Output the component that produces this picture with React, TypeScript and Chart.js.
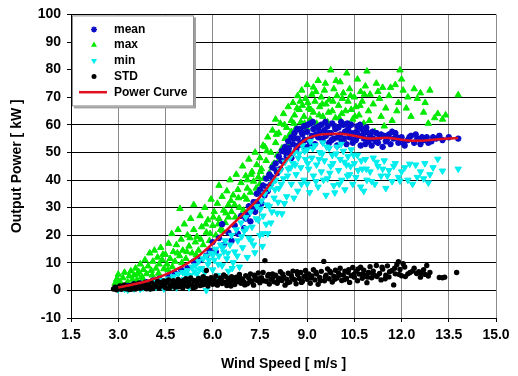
import React, { useEffect, useRef } from "react";
import { Chart, registerables } from "chart.js";

Chart.register(...registerables);

// ---------- data ----------
const curveSpeed = [3.0, 3.5, 4.0, 4.5, 5.0, 5.5, 6.0, 6.5, 7.0, 7.5, 8.0, 8.25, 8.5, 8.75, 9.0, 9.5, 10.0, 10.5, 11.0, 11.5, 12.0, 12.5, 13.0, 13.5, 13.8];
const curvePower = [1.0, 2.2, 3.7, 5.7, 8.5, 12.0, 17.0, 22.5, 28.0, 33.8, 41.5, 46.0, 49.5, 52.8, 55.0, 56.6, 56.8, 56.0, 55.0, 55.3, 54.6, 54.2, 54.6, 55.0, 55.2];

const meanPoints: [number, number][] = [
  [3.0, 0.8], [3.1, 1.2], [3.3, 1.6], [3.5, 2.2], [3.7, 2.5], [3.9, 3.0], [4.1, 3.6], [4.3, 4.2], [4.6, 5.5], [4.8, 6.2],
  [5.0, 7.5], [5.2, 8.0], [5.4, 10.5], [5.6, 11.0], [5.8, 12.6], [5.9, 14.5], [6.0, 17.5], [6.1, 14.0], [6.2, 19.0], [6.3, 24.0],
  [6.35, 16.5], [6.5, 21.0], [6.6, 18.0], [6.7, 23.5], [6.8, 20.5], [6.9, 27.0], [7.0, 22.5], [7.05, 26.0], [7.15, 30.5], [7.2, 25.0],
  [7.3, 32.0], [7.35, 28.5], [7.4, 35.0], [7.45, 30.5],
  [7.5, 36.5], [7.55, 31.5], [7.6, 38.0], [7.65, 34.5], [7.7, 40.5], [7.75, 36.0], [7.8, 42.0], [7.85, 38.5], [7.9, 44.5], [7.95, 40.0],
  [8.0, 46.0], [8.05, 42.5], [8.1, 48.5], [8.15, 44.0], [8.2, 50.5], [8.25, 46.5], [8.3, 52.0], [8.35, 48.5], [8.4, 54.0], [8.45, 50.0],
  [8.5, 55.5], [8.5, 48.0],
  [8.55, 53.0], [8.6, 57.0], [8.65, 51.0], [8.7, 55.0], [8.75, 58.5], [8.8, 53.5], [8.85, 56.5], [8.9, 59.5], [8.95, 52.0], [9.0, 57.5],
  [9.05, 54.5], [9.1, 60.5], [9.15, 56.0], [9.2, 58.5], [9.25, 53.0], [9.3, 59.0], [9.35, 55.5], [9.4, 57.5], [9.45, 60.0], [9.5, 54.0],
  [9.55, 58.0], [9.6, 56.0], [9.65, 59.5], [9.7, 53.5], [9.75, 57.0], [9.8, 60.5], [9.85, 55.0], [9.9, 58.5], [9.95, 52.5], [10.0, 59.0],
  [10.05, 56.5], [10.1, 54.0], [10.15, 60.0], [10.2, 57.5], [10.25, 53.0], [10.3, 58.5], [10.35, 55.5], [10.4, 60.0], [10.45, 53.5], [10.5, 57.0],
  [10.55, 54.5], [10.6, 59.5], [10.65, 56.0], [10.7, 52.5], [10.75, 58.5], [10.8, 55.0], [10.85, 53.0], [10.9, 57.5], [10.95, 54.0],
  [11.0, 56.0], [11.05, 52.5], [11.1, 55.0], [11.2, 57.0], [11.25, 53.5], [11.3, 55.5], [11.4, 52.0], [11.45, 56.0], [11.5, 54.0], [11.6, 56.5],
  [11.65, 53.0], [11.75, 55.0], [11.8, 57.0], [11.9, 53.5], [12.0, 55.5], [12.1, 52.5], [12.2, 54.5], [12.3, 56.0], [12.4, 53.5], [12.5, 55.0],
  [12.6, 53.0], [12.7, 54.5], [12.8, 55.5], [12.95, 54.0], [13.1, 55.0], [13.2, 56.0], [13.3, 54.5], [13.5, 55.5], [13.8, 55.0],
  [8.32, 50.0], [8.42, 51.5], [8.58, 55.0], [8.68, 58.5], [8.72, 52.5], [8.82, 57.5], [8.92, 54.5], [9.02, 60.0], [9.08, 52.5], [9.18, 61.0],
  [9.28, 56.5], [9.38, 59.5], [9.48, 55.0], [9.58, 61.0], [9.68, 57.0], [9.78, 54.5], [9.88, 59.5], [9.98, 55.5], [10.08, 61.0], [10.18, 55.0],
  [10.28, 60.5], [10.38, 57.0], [10.48, 54.5], [10.58, 57.5], [10.68, 60.0], [10.78, 56.5], [10.88, 59.0], [10.98, 55.5], [11.08, 57.5], [11.18, 54.0],
  [11.35, 56.5], [11.55, 55.0], [11.7, 57.5], [11.85, 55.5], [12.05, 53.5], [12.25, 55.5], [12.45, 56.5], [12.65, 55.5], [12.85, 53.5], [13.0, 55.5],
  [7.12, 27.5], [7.28, 29.5], [7.42, 32.0], [7.58, 35.5], [7.72, 37.5], [7.88, 41.0], [8.02, 43.5], [8.18, 47.0],
];

const maxPoints: [number, number][] = [
  [2.9, 2.5], [2.95, 4.0], [3.0, 1.5], [3.0, 5.8], [3.05, 3.2], [3.1, 2.0], [3.15, 4.5], [3.2, 6.5], [3.3, 3.0], [3.35, 5.2], [3.4, 7.0], [3.45, 4.0],
  [3.5, 5.5], [3.55, 8.0], [3.6, 3.8], [3.65, 6.8], [3.7, 9.5], [3.75, 5.0], [3.8, 7.5], [3.85, 11.0], [3.9, 6.0], [3.95, 8.8],
  [4.0, 13.5], [4.05, 7.2], [4.1, 10.5], [4.15, 14.5], [4.2, 8.0], [4.25, 12.0], [4.3, 9.5], [4.35, 15.5], [4.4, 11.0], [4.45, 7.8],
  [4.5, 13.0], [4.55, 9.5], [4.6, 17.0], [4.65, 11.5], [4.7, 20.5], [4.75, 14.0], [4.8, 10.5], [4.85, 16.5], [4.9, 22.0], [4.95, 12.5],
  [4.96, 29.6], [5.0, 18.5], [5.05, 14.5], [5.1, 24.0], [5.15, 11.5], [5.2, 20.0], [5.25, 16.0], [5.3, 26.0], [5.35, 13.5], [5.4, 31.0],
  [5.4, 22.0], [5.45, 17.5],
  [5.5, 19.5], [5.55, 14.5], [5.6, 27.0], [5.65, 23.0], [5.7, 16.5], [5.75, 30.0], [5.8, 21.0], [5.85, 25.5], [5.9, 18.0], [5.95, 33.0],
  [6.0, 23.5], [6.05, 28.5], [6.1, 20.0], [6.15, 31.5], [6.2, 38.0], [6.2, 26.0], [6.25, 22.0], [6.3, 34.0], [6.35, 29.0], [6.4, 24.5],
  [6.45, 36.0], [6.5, 31.0], [6.5, 26.5],
  [6.55, 40.0], [6.6, 28.5], [6.65, 34.5], [6.7, 31.0], [6.75, 42.0], [6.8, 36.5], [6.85, 30.0], [6.9, 39.0], [6.95, 45.0], [7.0, 34.0],
  [7.05, 41.5], [7.1, 37.0], [7.1, 40.0], [7.15, 47.5], [7.2, 35.5], [7.25, 43.0], [7.3, 39.5], [7.35, 50.0], [7.4, 45.5], [7.45, 41.0],
  [7.5, 48.0], [7.5, 38.5],
  [7.55, 44.0], [7.6, 52.5], [7.66, 52.0], [7.7, 47.0], [7.75, 55.5], [7.8, 42.5], [7.85, 50.0], [7.9, 58.0], [7.95, 46.0], [8.0, 62.0],
  [8.0, 53.5], [8.05, 49.0], [8.1, 57.0], [8.15, 60.5], [8.2, 51.5], [8.25, 64.0], [8.3, 55.0], [8.35, 59.0], [8.4, 66.5], [8.45, 53.0],
  [8.5, 61.5], [8.5, 57.5],
  [8.55, 68.0], [8.6, 63.5], [8.65, 59.0], [8.7, 70.5], [8.75, 65.5], [8.8, 61.0], [8.83, 72.5], [8.85, 67.0], [8.9, 63.0], [8.95, 69.5],
  [9.0, 58.5], [9.0, 74.5], [9.05, 66.0], [9.1, 62.0], [9.15, 71.0], [9.2, 73.6], [9.2, 64.5], [9.25, 68.5], [9.3, 60.5], [9.35, 76.0],
  [9.4, 66.5], [9.45, 70.0], [9.5, 63.0], [9.55, 72.5], [9.6, 67.5], [9.65, 61.0], [9.7, 69.0], [9.75, 79.8], [9.8, 65.0], [9.85, 73.0],
  [9.9, 62.5], [9.95, 70.5], [10.0, 67.0], [10.05, 75.5], [10.1, 64.0], [10.15, 71.5], [10.2, 60.0], [10.26, 78.7], [10.3, 68.5], [10.35, 73.0],
  [10.4, 65.5], [10.45, 62.0],
  [10.5, 70.0], [10.55, 66.5], [10.6, 76.5], [10.65, 63.5], [10.7, 72.0], [10.75, 68.5], [10.8, 60.5], [10.85, 74.0], [10.9, 79.4], [10.95, 65.0],
  [11.0, 71.0], [11.1, 67.5], [11.15, 57.5], [11.2, 75.0], [11.3, 69.5], [11.35, 63.0], [11.4, 73.5], [11.5, 66.0], [11.6, 70.5], [11.7, 61.5],
  [11.8, 74.5], [11.9, 68.0], [11.95, 79.8], [12.0, 76.5],
  [12.05, 72.5], [12.15, 66.0], [12.2, 70.0], [12.3, 63.0], [12.4, 73.0], [12.5, 69.5], [12.6, 71.5], [12.7, 64.5], [12.75, 68.0], [12.85, 60.5],
  [12.9, 72.5], [13.05, 62.5], [13.15, 64.0], [13.3, 62.0], [13.4, 63.5], [13.8, 70.8],
  [3.25, 2.0], [3.6, 5.9], [3.78, 4.2], [4.08, 5.5], [4.28, 6.2], [4.42, 13.0], [4.58, 7.5], [4.72, 8.5], [4.88, 13.5], [5.02, 10.0],
  [5.18, 14.0], [5.28, 19.0], [5.48, 12.8], [5.62, 18.5], [5.78, 24.0], [5.92, 20.5], [6.02, 26.5], [6.18, 24.0], [6.32, 21.5], [6.42, 28.0],
  [6.58, 32.5], [6.72, 26.5], [6.82, 33.5], [6.98, 29.0], [7.08, 33.0], [7.22, 42.0], [7.38, 37.0], [7.52, 43.0], [7.62, 40.5], [7.72, 50.5],
  [7.88, 45.0], [8.02, 56.5], [8.12, 47.5], [8.28, 60.0], [8.42, 56.0], [8.58, 60.5], [8.68, 66.0], [8.78, 68.5], [8.92, 60.5], [9.02, 68.0],
  [9.12, 65.5], [9.28, 72.0], [9.38, 63.5], [9.48, 67.5], [9.58, 75.0], [9.68, 64.5], [9.82, 68.5], [9.92, 76.0], [10.02, 62.5], [10.12, 69.5],
  [10.22, 65.0], [10.38, 70.5], [10.52, 63.0], [10.68, 67.0], [10.82, 71.0], [10.98, 61.5], [11.25, 72.0], [11.45, 59.5], [11.65, 73.5], [11.85, 65.0],
];

const minPoints: [number, number][] = [
  [3.0, 0.3], [3.1, 0.8], [3.2, 0.5], [3.4, 1.2], [3.5, 0.6], [3.6, 1.8], [3.8, 1.0], [3.9, 2.4], [4.0, 0.8], [4.1, 2.9], [4.3, 1.6], [4.4, 3.6],
  [4.5, 2.2], [4.6, 4.2], [4.7, 1.5], [4.75, 5.0], [4.8, 3.0], [4.9, 5.8], [5.0, 2.5], [5.05, 6.5], [5.1, 4.0], [5.2, 7.2],
  [5.25, 1.0], [5.3, 5.5], [5.35, 8.5], [5.4, 3.5], [5.45, 9.0], [5.5, 6.0],
  [5.55, 10.5], [5.6, 4.5], [5.65, 8.0], [5.7, 11.5], [5.75, 6.5], [5.8, 0.0], [5.8, 12.5], [5.85, 9.5], [5.9, 4.0], [5.95, 13.5],
  [6.0, 7.5], [6.05, 11.0], [6.1, 15.0], [6.15, 5.5], [6.2, 12.5], [6.25, 16.5], [6.3, 9.0], [6.35, 14.0], [6.4, 18.0], [6.45, 11.5], [6.5, 7.0],
  [6.55, 16.5], [6.6, 20.0], [6.65, 10.1], [6.7, 14.0], [6.75, 22.0], [6.8, 18.0], [6.85, 8.5], [6.9, 24.5], [6.95, 15.5], [7.0, 21.5],
  [7.05, 26.5], [7.1, 12.0], [7.15, 19.0], [7.2, 28.5], [7.25, 23.0], [7.3, 16.5], [7.34, 13.7], [7.4, 30.5], [7.45, 25.5], [7.5, 20.0],
  [7.55, 32.5], [7.6, 27.0], [7.6, 20.6], [7.65, 35.0], [7.7, 24.0], [7.75, 20.6], [7.8, 30.5], [7.8, 37.0], [7.85, 24.5], [7.9, 39.0],
  [7.95, 33.5], [8.0, 40.0], [8.05, 28.0], [8.1, 37.0], [8.15, 43.5], [8.2, 27.8], [8.25, 40.5], [8.3, 46.5], [8.35, 34.0], [8.4, 44.0],
  [8.45, 48.0], [8.5, 38.5],
  [8.55, 46.0], [8.6, 50.0], [8.65, 42.0], [8.7, 36.0], [8.75, 49.5], [8.8, 44.5], [8.85, 52.5], [8.9, 40.0], [8.95, 47.5], [9.0, 38.6],
  [9.0, 51.0], [9.05, 44.0], [9.1, 54.0], [9.15, 48.0], [9.2, 41.5], [9.25, 52.5], [9.3, 45.5], [9.35, 37.5], [9.4, 50.0], [9.45, 43.0],
  [9.5, 53.5], [9.55, 47.0], [9.6, 34.5], [9.65, 40.5], [9.7, 51.5], [9.75, 45.0], [9.8, 49.0], [9.85, 38.0], [9.88, 35.4], [9.95, 52.0],
  [10.0, 43.5], [10.05, 47.5], [10.1, 40.0], [10.15, 50.5], [10.2, 36.5], [10.25, 45.5], [10.3, 48.5], [10.35, 42.0], [10.4, 51.0], [10.45, 38.5],
  [10.5, 46.0], [10.55, 41.0], [10.6, 49.0], [10.7, 37.5], [10.75, 44.0], [10.8, 36.0], [10.85, 47.5], [10.9, 40.0], [11.0, 43.0], [11.1, 48.0],
  [11.15, 38.5], [11.25, 45.0], [11.35, 41.5], [11.45, 47.0], [11.5, 37.0], [11.6, 43.5], [11.7, 39.5], [11.8, 46.0], [11.9, 41.0], [11.95, 39.7],
  [12.1, 44.5], [12.26, 45.8], [12.35, 38.5], [12.5, 41.0], [12.6, 43.0], [12.74, 46.0], [12.85, 39.0], [12.9, 42.0], [13.0, 44.5], [13.15, 47.6],
  [13.3, 43.3], [13.8, 44.0],
  [3.3, 0.2], [3.7, 0.5], [4.2, 1.2], [4.45, 0.6], [4.65, 2.8], [4.85, 1.0], [5.15, 5.8], [5.42, 6.8], [5.58, 7.5], [5.72, 3.0],
  [5.88, 11.0], [6.02, 13.0], [6.18, 9.5], [6.32, 15.5], [6.48, 13.5], [6.62, 8.0], [6.78, 12.5], [6.92, 19.5], [7.08, 22.5], [7.22, 18.0],
  [7.38, 26.0], [7.52, 29.5], [7.58, 16.0], [7.72, 31.0], [7.88, 28.5], [7.98, 36.5], [8.08, 32.0], [8.18, 38.5], [8.28, 31.5], [8.38, 41.5],
  [8.48, 44.5], [8.58, 33.5], [8.62, 45.5], [8.72, 48.0], [8.82, 38.5], [8.92, 50.5], [9.02, 46.0], [9.08, 35.5], [9.18, 51.5], [9.28, 39.5],
  [9.38, 47.5], [9.48, 49.5], [9.52, 40.0], [9.62, 52.0], [9.72, 42.5], [9.82, 46.0], [9.92, 49.5], [10.02, 38.5], [10.08, 53.0], [10.18, 46.5],
  [10.28, 41.5], [10.38, 45.0], [10.48, 49.0], [10.62, 43.5], [10.72, 47.0], [10.88, 44.0], [11.05, 39.5], [11.2, 46.5], [11.4, 44.0], [11.55, 41.5],
  [11.75, 45.0], [12.0, 43.0], [12.2, 40.0], [12.45, 45.5], [12.7, 40.5],
];

const stdPoints: [number, number][] = [
  [2.85, 0.5], [2.9, 1.2], [2.95, 0.2], [3.0, 0.8], [3.05, 1.6], [3.1, 0.4], [3.15, 1.0], [3.2, 2.0], [3.25, 0.6], [3.3, 1.4],
  [3.35, 0.3], [3.4, 1.8], [3.45, 0.9], [3.5, 2.3], [3.55, 0.5], [3.6, 1.5], [3.65, 2.6], [3.7, 0.8], [3.75, 1.9], [3.8, 1.1],
  [3.85, 2.8], [3.9, 0.6], [3.95, 2.0], [4.0, 1.3], [4.05, 3.0], [4.1, 0.7], [4.15, 2.2], [4.2, 1.5], [4.25, 3.2], [4.3, 0.9],
  [4.35, 2.5], [4.4, 1.7], [4.45, 3.4],
  [4.5, 1.0], [4.55, 2.8], [4.6, 3.8], [4.65, 1.4], [4.7, 2.2], [4.75, 3.5], [4.8, 1.1], [4.85, 2.9], [4.9, 4.0], [4.95, 1.8],
  [5.0, 3.2], [5.05, 0.9], [5.1, 2.4], [5.15, 4.2], [5.2, 1.5], [5.25, 3.0], [5.3, 4.5], [5.35, 2.0], [5.4, 3.6], [5.45, 1.2],
  [5.5, 2.7], [5.55, 4.3], [5.6, 1.8], [5.65, 3.4], [5.7, 5.0], [5.75, 2.3], [5.8, 7.2], [5.8, 3.9], [5.85, 1.6], [5.9, 2.9], [5.95, 4.6],
  [6.0, 2.2], [6.05, 3.8], [6.1, 5.2], [6.15, 1.9], [6.2, 3.3], [6.25, 4.5], [6.3, 2.5], [6.35, 5.6], [6.4, 3.0], [6.45, 1.8],
  [6.5, 4.2], [6.55, 2.8], [6.6, 5.0], [6.65, 3.5], [6.7, 2.1], [6.75, 4.8], [6.8, 3.2], [6.85, 5.8], [6.9, 2.6], [6.95, 4.0],
  [7.0, 3.0], [7.05, 5.3], [7.1, 2.4], [7.15, 4.4], [7.2, 6.0], [7.25, 3.4], [7.3, 1.9], [7.35, 4.9], [7.4, 3.7], [7.45, 6.3],
  [7.5, 2.8], [7.55, 4.6], [7.6, 6.5], [7.66, 10.8], [7.7, 3.3], [7.75, 5.2], [7.8, 2.3], [7.85, 4.0], [7.9, 6.0], [7.95, 3.1],
  [8.0, 5.5], [8.05, 2.6], [8.1, 4.4], [8.15, 6.8], [8.2, 3.6], [8.25, 5.0], [8.3, 1.9], [8.35, 4.1], [8.4, 6.2], [8.45, 3.0],
  [8.5, 5.3], [8.55, 7.0], [8.6, 3.9], [8.65, 2.4], [8.7, 5.8], [8.75, 4.3], [8.8, 6.5], [8.85, 3.2], [8.9, 5.0], [8.95, 7.2],
  [9.0, 4.0], [9.05, 6.0], [9.1, 2.6], [9.15, 5.2], [9.2, 7.5], [9.25, 3.8], [9.3, 5.9], [9.35, 2.2], [9.4, 4.7], [9.45, 6.9],
  [9.53, 10.5], [9.55, 3.5], [9.6, 5.5], [9.65, 7.8], [9.7, 4.2], [9.75, 6.4], [9.8, 3.0], [9.85, 5.1], [9.9, 7.3], [9.95, 4.5],
  [10.0, 6.2], [10.05, 8.0], [10.1, 3.6], [10.15, 5.6], [10.2, 7.0], [10.25, 4.3], [10.3, 6.6], [10.35, 2.9], [10.4, 5.3], [10.45, 8.3],
  [10.5, 4.8], [10.55, 6.9], [10.6, 3.5], [10.65, 5.9], [10.7, 8.4], [10.75, 4.4], [10.8, 7.3], [10.85, 5.2], [10.9, 2.8], [10.95, 6.5],
  [11.0, 8.6], [11.05, 4.6], [11.1, 7.0], [11.15, 5.4], [11.2, 9.0], [11.3, 6.1], [11.35, 3.8], [11.4, 7.7], [11.5, 5.5], [11.55, 8.9],
  [11.6, 4.9], [11.7, 7.2], [11.75, 2.0], [11.8, 6.0], [11.85, 9.3], [11.9, 10.4], [11.95, 7.6], [12.0, 5.3],
  [12.05, 9.7], [12.1, 8.5], [12.2, 6.0], [12.27, 6.5], [12.35, 7.0], [12.48, 6.1], [12.55, 6.8], [12.6, 4.8], [12.7, 7.5], [12.75, 5.8],
  [12.8, 9.0], [12.9, 6.5], [13.2, 4.7], [13.3, 4.6], [13.37, 4.8], [13.75, 6.5],
  [3.12, 1.5], [3.28, 0.9], [3.42, 0.4], [3.58, 1.1], [3.72, 2.1], [3.88, 1.6], [4.02, 0.5], [4.18, 1.9], [4.32, 2.9], [4.48, 2.2],
  [4.62, 0.8], [4.78, 2.5], [4.92, 1.3], [5.08, 3.6], [5.22, 2.6], [5.38, 1.0], [5.52, 3.8], [5.68, 2.0], [5.82, 4.2], [5.98, 3.1],
  [6.12, 2.7], [6.28, 4.0], [6.42, 5.0], [6.58, 1.6], [6.72, 3.9], [6.88, 4.5], [7.02, 2.0], [7.18, 3.0], [7.32, 5.5], [7.48, 4.2],
  [7.62, 3.5], [7.78, 5.8], [7.92, 4.8], [8.08, 3.4], [8.22, 6.0], [8.38, 2.8], [8.52, 4.5], [8.68, 6.8], [8.82, 2.9], [8.98, 5.6],
  [9.12, 4.5], [9.28, 6.6], [9.42, 3.5], [9.58, 4.9], [9.72, 7.0], [9.88, 4.0], [10.02, 5.5], [10.18, 3.9], [10.32, 7.5], [10.48, 5.8],
  [10.62, 7.8], [10.78, 6.0], [10.92, 4.8], [11.08, 6.2], [11.22, 5.0], [11.38, 8.4], [11.48, 4.2], [11.62, 6.8], [11.78, 8.0], [11.92, 5.8],
  [12.12, 5.0], [12.4, 8.0], [12.62, 6.2], [12.85, 5.2],
];

const xTickMin = 1.5;
const xTickMax = 15.0;
const xTickStep = 1.5;
const yTickMin = -10;
const yTickMax = 100;
const yTickStep = 10;

const seriesLabels = ["mean", "max", "min", "STD", "Power Curve"];

// ---------- styles ----------
const MEAN_COLOR = "#0a0ac8";
const MAX_COLOR = "#00ea00";
const MIN_COLOR = "#00eeee";
const STD_COLOR = "#000000";
const CURVE_COLOR = "#e0101e";
const FONT = "'Liberation Sans', Arial, Helvetica, sans-serif";

const toXY = (pts: [number, number][]) => pts.map(([x, y]) => ({ x, y }));

function drawMarker(ctx: CanvasRenderingContext2D, kind: string, x: number, y: number, color: string) {
  ctx.save();
  ctx.fillStyle = color;
  ctx.strokeStyle = color;
  if (kind === "star") {
    ctx.lineWidth = 1.5;
    const r = 3;
    ctx.beginPath();
    for (let i = 0; i < 4; i++) {
      const a = (i * Math.PI) / 4;
      ctx.moveTo(x - Math.cos(a) * r, y - Math.sin(a) * r);
      ctx.lineTo(x + Math.cos(a) * r, y + Math.sin(a) * r);
    }
    ctx.stroke();
  } else if (kind === "up" || kind === "down") {
    const r = 3.5;
    const s = kind === "up" ? -1 : 1;
    ctx.beginPath();
    ctx.moveTo(x, y + s * r);
    ctx.lineTo(x - r * 0.866, y - s * r * 0.5);
    ctx.lineTo(x + r * 0.866, y - s * r * 0.5);
    ctx.closePath();
    ctx.fill();
  } else if (kind === "circle") {
    ctx.beginPath();
    ctx.arc(x, y, 2.5, 0, Math.PI * 2);
    ctx.fill();
  } else if (kind === "line") {
    ctx.lineWidth = 2.5;
    ctx.beginPath();
    ctx.moveTo(x - 15, y);
    ctx.lineTo(x + 13, y);
    ctx.stroke();
  }
  ctx.restore();
}

const legendPlugin = {
  id: "boxLegend",
  afterDraw(chart: any) {
    const ctx: CanvasRenderingContext2D = chart.ctx;
    const a = chart.chartArea;
    const x0 = a.left + 1;
    const y0 = a.top + 1;
    const w = 122;
    const h = 91;
    ctx.save();
    ctx.fillStyle = "#a0a0a0";
    ctx.fillRect(x0 + 2, y0 + 2, w, h);
    ctx.fillStyle = "#ffffff";
    ctx.fillRect(x0, y0, w, h);
    ctx.strokeStyle = "#909090";
    ctx.lineWidth = 1;
    ctx.strokeRect(x0 + 0.5, y0 + 0.5, w - 1, h - 1);
    const kinds = ["star", "up", "down", "circle", "line"];
    const colors = [MEAN_COLOR, MAX_COLOR, MIN_COLOR, STD_COLOR, CURVE_COLOR];
    ctx.font = `bold 12px ${FONT}`;
    ctx.textBaseline = "middle";
    ctx.textAlign = "left";
    seriesLabels.forEach((label, i) => {
      const yy = a.top + 15 + i * 15.7;
      drawMarker(ctx, kinds[i], a.left + 23, yy, colors[i]);
      ctx.fillStyle = "#000";
      ctx.fillText(label, a.left + 43, yy);
    });
    ctx.restore();
  },
};

export default function App() {
  const ref = useRef<HTMLCanvasElement | null>(null);

  useEffect(() => {
    if (!ref.current) return;
    Chart.defaults.font.family = FONT;
    const chart = new Chart(ref.current, {
      type: "scatter",
      data: {
        datasets: [
          {
            label: seriesLabels[4],
            data: curveSpeed.map((x, i) => ({ x, y: curvePower[i] })),
            showLine: true,
            borderColor: CURVE_COLOR,
            backgroundColor: CURVE_COLOR,
            borderWidth: 2.5,
            pointRadius: 0,
            cubicInterpolationMode: "monotone",
            order: 0,
          },
          {
            label: seriesLabels[3],
            data: toXY(stdPoints),
            pointStyle: "circle",
            pointRadius: 2.7,
            backgroundColor: STD_COLOR,
            borderColor: STD_COLOR,
            borderWidth: 0,
            order: 1,
          },
          {
            label: seriesLabels[2],
            data: toXY(minPoints),
            pointStyle: "triangle",
            rotation: 180,
            pointRadius: 3.7,
            backgroundColor: MIN_COLOR,
            borderColor: MIN_COLOR,
            borderWidth: 1,
            order: 2,
          },
          {
            label: seriesLabels[0],
            data: toXY(meanPoints),
            pointStyle: "star",
            pointRadius: 3.2,
            backgroundColor: MEAN_COLOR,
            borderColor: MEAN_COLOR,
            borderWidth: 2,
            order: 3,
          },
          {
            label: seriesLabels[1],
            data: toXY(maxPoints),
            pointStyle: "triangle",
            pointRadius: 3.7,
            backgroundColor: MAX_COLOR,
            borderColor: MAX_COLOR,
            borderWidth: 1,
            order: 4,
          },
        ],
      } as any,
      options: {
        responsive: false,
        animation: false,
        devicePixelRatio: 1,
        layout: { padding: { left: 0, top: 13, right: 22, bottom: 0 } },
        plugins: {
          legend: { display: false },
          tooltip: { enabled: false },
        },
        scales: {
          x: {
            type: "linear",
            min: xTickMin,
            max: xTickMax,
            afterFit: (s: any) => {
              s.height = 58;
            },
            ticks: {
              stepSize: xTickStep,
              autoSkip: false,
              maxRotation: 0,
              padding: 5,
              color: "#000",
              font: { size: 14, weight: "bold" },
              callback: (v: any) => Number(v).toFixed(1),
            },
            grid: { color: "#8a8a8a", lineWidth: 1, tickColor: "#000", tickLength: 4 },
            border: { display: true, color: "#000", width: 1 },
            title: {
              display: true,
              text: "Wind Speed [ m/s ]",
              color: "#000",
              font: { size: 14, weight: "bold" },
              padding: { top: 0, bottom: 3 },
            },
          },
          y: {
            type: "linear",
            min: yTickMin,
            max: yTickMax,
            afterFit: (s: any) => {
              s.width = 71;
            },
            ticks: {
              stepSize: yTickStep,
              padding: 6,
              color: "#000",
              font: { size: 14, weight: "bold" },
            },
            grid: { color: "#000", lineWidth: 1, tickColor: "#000", tickLength: 4 },
            border: { display: true, color: "#000", width: 1 },
            title: {
              display: true,
              text: "Output Power [ kW ]",
              color: "#000",
              font: { size: 14, weight: "bold" },
              padding: { top: 9, bottom: 0 },
            },
          },
        },
      } as any,
      plugins: [legendPlugin],
    });
    return () => chart.destroy();
  }, []);

  return (
    <div style={{ position: "absolute", left: 0, top: 0, width: 518, height: 376, background: "#fff" }}>
      <canvas ref={ref} width={518} height={376} style={{ display: "block" }} />
    </div>
  );
}
